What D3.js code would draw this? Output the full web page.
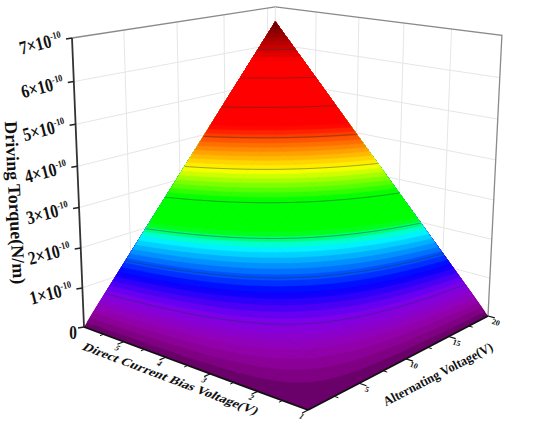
<!DOCTYPE html>
<html><head><meta charset="utf-8">
<script src="https://cdnjs.cloudflare.com/ajax/libs/d3/7.8.5/d3.min.js"></script>
<style>html,body{margin:0;padding:0;background:#fff}svg{display:block}text{font-family:"Liberation Serif","Times New Roman",serif;font-weight:bold;fill:#111}</style>
</head><body><svg id="c" width="550" height="424"></svg>
<script>
const dcValues=[1,2,3,4,5,6];
const acValues=[0,5,10,15,20];
// torque in units of 1e-10 N/m, rows = dc, columns = ac
const torque=[
 [0,0,0,0,0],
 [0,0.33,0.66,0.99,1.32],
 [0,0.66,1.32,1.98,2.64],
 [0,0.99,1.98,2.97,3.96],
 [0,1.32,2.64,3.96,5.28],
 [0,1.65,3.30,4.95,6.60]];
const zTicks=[0,1,2,3,4,5,6,7];
const dcTicks=[1,2,3,4,5];
const acTicks=[5,10,15,20];
const dcMinor=[1.5,2.5,3.5,4.5,5.5];
const acMinor=[2.5,7.5,12.5,17.5];
const acWallGrid=[4.5,9.5,14.3,19.1];
const dcWallGrid=[2,3,4,5];
const contourLevels=[0.66,1.32,1.98,2.64,3.30,3.96,4.62,5.28,5.94];
const colorPos=[0,0.02,0.05,0.10,0.16,0.27,0.31,0.40,0.49,0.56,0.63,0.85,1];
const colorHex=["#6a006a","#88008c","#9400b4","#7d00ee","#0000ff","#00ffff","#00ff00","#00ff00","#ffff00","#ff8000","#ff0000","#ff0000","#600000"];
const zTitle="Driving Torque(N/m)", dcTitle="Direct Current Bias Voltage(V)", acTitle="Alternating Voltage(V)";

const [P0,P1,P2,P3]=[[308,410],[84,327],[275,256],[488,316]];
const V=[268,4760], topLeft=[72,38];
const dx1=P1[0]-P2[0],dx2=P3[0]-P2[0],sx=P0[0]-P1[0]+P2[0]-P3[0];
const dy1=P1[1]-P2[1],dy2=P3[1]-P2[1],sy=P0[1]-P1[1]+P2[1]-P3[1];
const den=dx1*dy2-dx2*dy1;
const g=(sx*dy2-dx2*sy)/den,h=(dx1*sy-sx*dy1)/den;
const a=P1[0]-P0[0]+g*P1[0],b=P3[0]-P0[0]+h*P3[0],c=P0[0];
const d=P1[1]-P0[1]+g*P1[1],e=P3[1]-P0[1]+h*P3[1],f=P0[1];
const k=(topLeft[1]*(g+1)-(d+f))/(V[1]-topLeft[1]);
const uS=d3.scaleLinear().domain([1,6]).range([0,1]);
const vS=d3.scaleLinear().domain([0,20]).range([0,1]);
const wS=d3.scaleLinear().domain([0,7]).range([0,1]);
const pr=(u,v,w)=>{const q=g*u+h*v+1+k*w;return[(a*u+b*v+c+k*V[0]*w)/q,(d*u+e*v+f+k*V[1]*w)/q];};
const P=(dc,ac,z)=>pr(uS(dc),vS(ac),wS(z));

const svg=d3.select("#c");
const line=d3.line();
const seg=(p,q,col,wd)=>svg.append("path").attr("d",line([p,q])).attr("stroke",col).attr("stroke-width",wd).attr("fill","none");

// walls
zTicks.slice(1,-1).forEach(z=>{
  svg.append("path").attr("d",line([P(6,0,z),P(6,20,z),P(1,20,z)])).attr("fill","none").attr("stroke","#e6e6e6").attr("stroke-width",1);
});
acWallGrid.forEach(v=>seg(P(6,v,0),P(6,v,7),"#e6e6e6",1));
dcWallGrid.forEach(v=>seg(P(v,20,0),P(v,20,7),"#e6e6e6",1));
svg.append("path").attr("d",line([P(6,0,7),P(6,20,7),P(1,20,7),P(1,20,0)])).attr("fill","none").attr("stroke","#8a8a8a").attr("stroke-width",1.3);
seg(P(6,20,0),P(6,20,7),"#e6e6e6",1);

// surface via contours
const nx=241,ny=241,grid=new Float64Array(nx*ny);
const iu=d3.scaleLinear().domain([0,nx-1]).range([0,dcValues.length-1]);
const iv=d3.scaleLinear().domain([0,ny-1]).range([0,acValues.length-1]);
for(let j=0;j<ny;j++)for(let i=0;i<nx;i++){
  const x=iu(i),y=iv(j),x0=Math.min(Math.floor(x),dcValues.length-2),y0=Math.min(Math.floor(y),acValues.length-2),fx=x-x0,fy=y-y0;
  grid[j*nx+i]=torque[x0][y0]*(1-fx)*(1-fy)+torque[x0+1][y0]*fx*(1-fy)+torque[x0][y0+1]*(1-fx)*fy+torque[x0+1][y0+1]*fx*fy;
}
const zMax=d3.max(grid);
const color=d3.scaleLinear().domain(colorPos).range(colorHex).interpolate(d3.interpolateRgb);
const gu=d3.scaleLinear().domain([0.5,nx-0.5]).range([0,1]).clamp(true);
const gv=d3.scaleLinear().domain([0.5,ny-0.5]).range([0,1]).clamp(true);
const surfPath=mp=>mp.coordinates.map(poly=>poly.map(ring=>{
  return "M"+ring.map(pt=>{
    const uu=gu(pt[0]),vv=gv(pt[1]);
    const x=iu(uu*(nx-1)),y=iv(vv*(ny-1));
    const x0=Math.min(Math.floor(x),4),y0=Math.min(Math.floor(y),3),fx=x-x0,fy=y-y0;
    const zz=torque[x0][y0]*(1-fx)*(1-fy)+torque[x0+1][y0]*fx*(1-fy)+torque[x0][y0+1]*(1-fx)*fy+torque[x0+1][y0+1]*fx*fy;
    return pr(uu,vv,wS(zz)).map(n=>n.toFixed(2)).join(",");
  }).join("L")+"Z";
}).join("")).join("");
const nBands=72;
const bands=d3.range(nBands).map(i=>zMax*i/nBands);
const cg=d3.contours().size([nx,ny]).smooth(true);
svg.append("path").attr("d",line([P(1,0,0),P(6,0,0),P(6,20,6.6),P(1,20,0)])+"Z").attr("fill",color(0));
bands.slice(1).forEach(th=>{
  svg.append("path").attr("d",surfPath(cg.contour(grid,th))).attr("fill",color(th/zMax)).attr("stroke",color(th/zMax)).attr("stroke-width",0.4).attr("stroke-linejoin","round");
});
// faint mesh lines
dcValues.slice(1,-1).forEach(dc=>{const i=dcValues.indexOf(dc);
  svg.append("path").attr("d",line(acValues.map((ac,j)=>P(dc,ac,torque[i][j])))).attr("fill","none").attr("stroke","#000").attr("stroke-opacity",.04).attr("stroke-width",.7);});
acValues.slice(1,-1).forEach((ac,j)=>{
  svg.append("path").attr("d",line(dcValues.map((dc,i)=>P(dc,ac,torque[i][j+1])))).attr("fill","none").attr("stroke","#000").attr("stroke-opacity",.04).attr("stroke-width",.7);});
// contour lines
contourLevels.forEach(th=>{
  const mp=cg.contour(grid,th);
  svg.append("path").attr("d",mp.coordinates.map(poly=>{
    const r=poly[0].filter(pt=>pt[0]>0.6&&pt[1]>0.6&&pt[0]<nx-0.01&&pt[1]<ny-0.01);
    return line(r.map(pt=>pr(gu(pt[0]),gv(pt[1]),wS(th))));
  }).join("")).attr("fill","none").attr("stroke","#1a3a3a").attr("stroke-opacity",.55).attr("stroke-width",.8);
});

// axes
seg(P(6,0,0),P(6,0,7),"#333",1.8);
seg(P(6,0,0),P(1,0,0),"#111",1.8);
seg(P(1,0,0),P(1,20,0),"#111",1.8);
zTicks.forEach(z=>{const p=P(6,0,z);seg(p,[p[0]-6,p[1]+1],"#222",1.5);});
const tk=(p,q,wd)=>seg(p,q,"#111",wd);
dcTicks.forEach(t=>tk(P(t,0,0),pr(uS(t),-0.028,0),1.2));
dcMinor.forEach(t=>tk(P(t,0,0),pr(uS(t),-0.016,0),1));
acTicks.forEach(t=>tk(P(1,t,0),pr(-0.028,vS(t),0),1.2));
acMinor.forEach(t=>tk(P(1,t,0),pr(-0.016,vS(t),0),1));

// z labels
zTicks.forEach(z=>{
  const p=P(6,0,z);
  if(z===0){svg.append("text").attr("transform",`translate(${p[0]-7},${p[1]+12}) scale(.85,1)`).attr("text-anchor","end").attr("font-size",18).text("0");return;}
  const t=svg.append("text").attr("transform",`translate(${p[0]-9},${p[1]+6}) rotate(-14.5) scale(.82,1)`).attr("text-anchor","end").attr("font-size",19);
  t.append("tspan").text(z+"×10");
  t.append("tspan").attr("dy",-7).attr("font-size",10).text("-10");
});
// dc / ac labels
dcTicks.forEach(t=>{const p=P(t,0,0);
  svg.append("text").attr("transform",`translate(${p[0]-6},${p[1]+6}) rotate(20) skewX(-20)`).attr("text-anchor","middle").attr("dy",3).attr("font-size",8).attr("font-weight","normal").attr("fill","#444").text(t);});
acTicks.forEach(t=>{const p=P(1,t,0);
  svg.append("text").attr("transform",`translate(${p[0]+8},${p[1]+6}) rotate(20)`).attr("text-anchor","middle").attr("dy",3).attr("font-size",8).attr("font-weight","normal").attr("fill","#444").text(t);});
// titles
svg.append("text").attr("transform","translate(9,203) rotate(87)").attr("text-anchor","middle").attr("font-size",18).text(zTitle);
svg.append("text").attr("transform","translate(168,382) rotate(20.7) skewX(-20) scale(1,.85)").attr("text-anchor","middle").attr("font-size",14).text(dcTitle);
svg.append("text").attr("transform","translate(440,378) rotate(-27.6) scale(1,1.05)").attr("text-anchor","middle").attr("font-size",12.5).text(acTitle);
</script></body></html>
